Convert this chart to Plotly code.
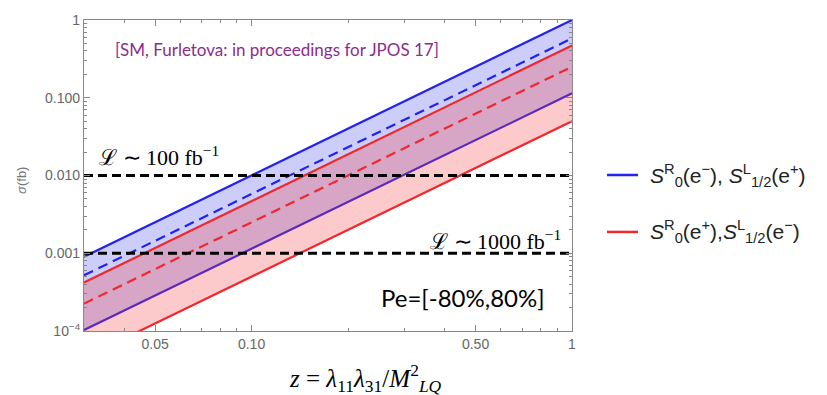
import plotly.graph_objects as go

# z range endpoints (x axis)
z_ends = [0.03, 1.0]

# cross-section values (fb) read at z = 0.03 and z = 1
blue_upper = [0.0009, 1.0]
blue_dashed = [0.00052, 0.58]
blue_lower = [0.000103, 0.114]
red_upper = [0.00042, 0.47]
red_dashed = [0.000225, 0.25]
red_lower = [0.000045, 0.05]

# luminosity reach lines
lumi_levels = [0.01, 0.001]
lumi_labels = ["ℒ ∼ 100 fb<sup>−1</sup>", "ℒ ∼ 1000 fb<sup>−1</sup>"]

x_tickvals = [0.05, 0.1, 0.5, 1]
x_ticktext = ["0.05", "0.10", "0.50", "1"]
y_tickvals = [1, 0.1, 0.01, 0.001, 0.0001]
y_ticktext = ["1", "0.100", "0.010", "0.001", "10<sup>−4</sup>"]

BLUE = "rgb(35,35,235)"
RED = "rgb(240,40,45)"
BLUE_FILL = "rgba(70,70,235,0.27)"
RED_FILL = "rgba(245,60,60,0.27)"

fig = go.Figure()

def band(lower, upper, color):
    return go.Scatter(x=[z_ends[0], z_ends[1], z_ends[1], z_ends[0]],
                      y=[lower[0], lower[1], upper[1], upper[0]],
                      fill="toself", fillcolor=color, mode="lines",
                      line=dict(width=0), hoverinfo="skip", showlegend=False)

def line(vals, color, dash=None):
    return go.Scatter(x=z_ends, y=vals, mode="lines",
                      line=dict(color=color, width=2.2, dash=dash),
                      showlegend=False)

fig.add_trace(band(blue_lower, blue_upper, BLUE_FILL))
fig.add_trace(line(blue_upper, BLUE))
fig.add_trace(line(blue_dashed, BLUE, "10px,6px"))
fig.add_trace(line(blue_lower, BLUE))
fig.add_trace(band(red_lower, red_upper, RED_FILL))
fig.add_trace(line(red_upper, RED))
fig.add_trace(line(red_dashed, RED, "10px,6px"))
fig.add_trace(line(red_lower, RED))

for lv in lumi_levels:
    fig.add_trace(go.Scatter(x=z_ends, y=[lv, lv], mode="lines",
                             line=dict(color="black", width=3, dash="9px,5px"),
                             showlegend=False))

minor_x = [0.03, 0.04, 0.06, 0.07, 0.08, 0.09, 0.2, 0.3, 0.4, 0.6, 0.7, 0.8, 0.9]
minor_y = [m * d for d in [0.0001, 0.001, 0.01, 0.1] for m in range(2, 10)]

axis_common = dict(showline=True, linecolor="#888", linewidth=1.2, mirror="allticks",
                   ticks="inside", ticklen=6, tickcolor="#888", showgrid=False,
                   zeroline=False, tickfont=dict(family="Liberation Sans", size=14, color="#666"))

fig.update_xaxes(type="log", range=[-1.5229, 0.0], tickvals=x_tickvals, ticktext=x_ticktext,
                 minor=dict(tickvals=minor_x, ticks="inside", ticklen=3, tickcolor="#888"),
                 **axis_common)
fig.update_yaxes(type="log", range=[-4, 0], tickvals=y_tickvals, ticktext=y_ticktext,
                 minor=dict(tickvals=minor_y, ticks="inside", ticklen=3, tickcolor="#888"),
                 **axis_common)

L, R, T, B = 84, 255, 14, 64
W, H = 827, 395
pw, ph = W - L - R, H - T - B

def px(x):
    return (x - L) / pw

def py(y):
    return (H - B - y) / ph

ann = []
ann.append(dict(x=px(113), y=py(44), xref="paper", yref="paper", xanchor="left", yanchor="middle",
                text="[SM, Furletova: in proceedings for JPOS 17]", showarrow=False,
                font=dict(family="Lato", size=17, color="rgb(140,45,140)")))
ann.append(dict(x=px(97), y=py(153), xref="paper", yref="paper", xanchor="left", yanchor="middle",
                text=lumi_labels[0], showarrow=False,
                font=dict(family="Liberation Serif", size=22, color="black")))
ann.append(dict(x=px(563), y=py(238), xref="paper", yref="paper", xanchor="right", yanchor="middle",
                text=lumi_labels[1], showarrow=False,
                font=dict(family="Liberation Serif", size=22, color="black")))
ann.append(dict(x=px(463), y=py(297), xref="paper", yref="paper", xanchor="center", yanchor="middle",
                text="Pe=[-80%,80%]", showarrow=False,
                font=dict(family="Lato", size=24, color="black")))
ann.append(dict(x=px(365), y=py(379), xref="paper", yref="paper", xanchor="center", yanchor="middle",
                text="<i>z</i> = <i>λ</i><sub>11</sub><i>λ</i><sub>31</sub>/<i>M</i><sup>2</sup><sub><i>LQ</i></sub>",
                showarrow=False, font=dict(family="Liberation Serif", size=25, color="black")))
ann.append(dict(x=px(22), y=py(178), xref="paper", yref="paper", xanchor="center", yanchor="middle",
                text="<i>σ</i>(fb)", textangle=-90, showarrow=False,
                font=dict(family="Liberation Sans", size=13, color="#777")))

legend_items = [
    (172, BLUE, "<i>S</i><sup>R</sup><sub>0</sub>(e<sup>−</sup>), <i>S</i><sup>L</sup><sub>1/2</sub>(e<sup>+</sup>)"),
    (230, RED, "<i>S</i><sup>R</sup><sub>0</sub>(e<sup>+</sup>),<i>S</i><sup>L</sup><sub>1/2</sub>(e<sup>−</sup>)"),
]
shapes = []
for yy, col, txt in legend_items:
    shapes.append(dict(type="line", xref="paper", yref="paper", x0=px(607), x1=px(638),
                       y0=py(yy), y1=py(yy), line=dict(color=col, width=2.5)))
    ann.append(dict(x=px(648), y=py(yy), xref="paper", yref="paper", xanchor="left", yanchor="middle",
                    text=txt, showarrow=False,
                    font=dict(family="Liberation Sans", size=21, color="#222")))

fig.update_layout(width=W, height=H, margin=dict(l=L, r=R, t=T, b=B),
                  paper_bgcolor="white", plot_bgcolor="white",
                  annotations=ann, shapes=shapes, showlegend=False)

fig.write_html("out.html")
